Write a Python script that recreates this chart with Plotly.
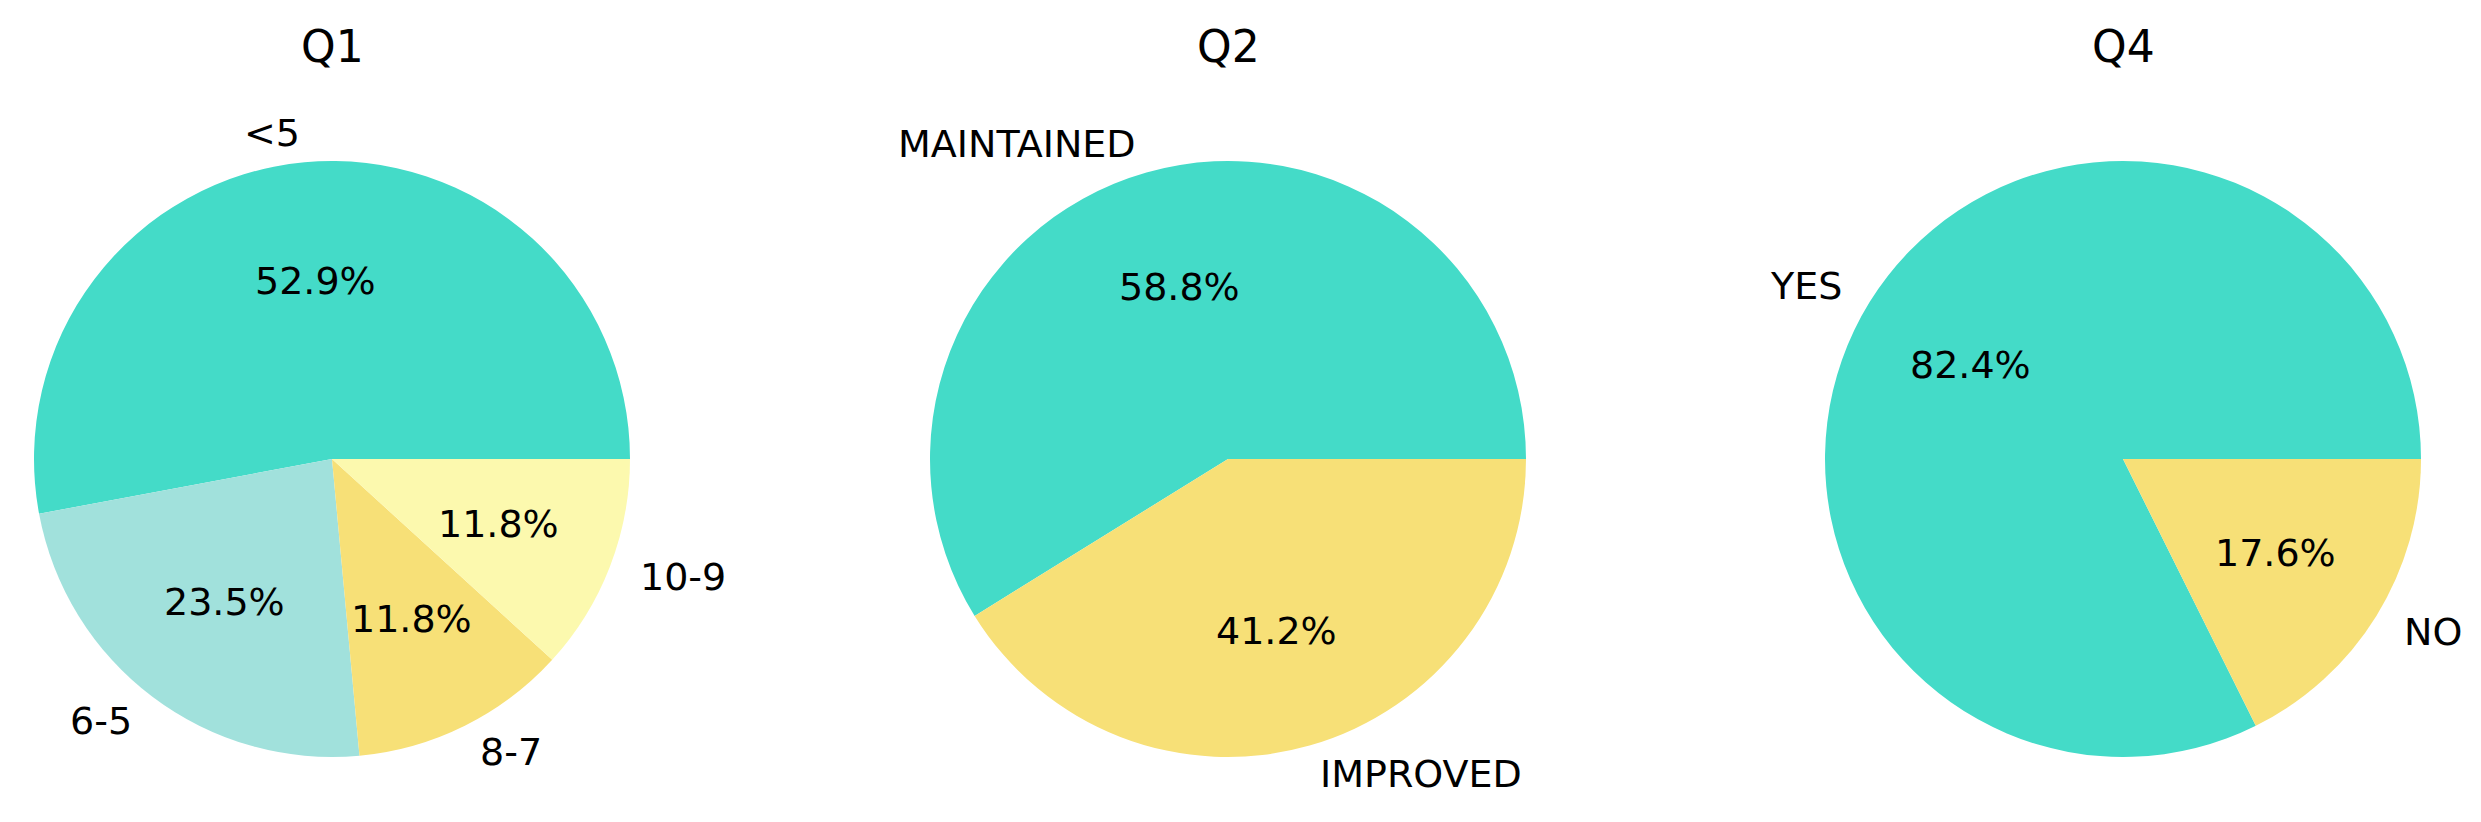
import math
import plotly.graph_objects as go

# survey answers (counts out of 17)
q1_labels = ["<5", "6-5", "8-7", "10-9"]
q1_values = [9, 4, 2, 2]
q2_labels = ["MAINTAINED", "IMPROVED"]
q2_values = [10, 7]
q4_labels = ["YES", "NO"]
q4_values = [14, 3]

titles = ["Q1", "Q2", "Q4"]
q1_colors = ["#44DBC8", "#A1E1DC", "#F7E077", "#FCF9AE"]
q2_colors = ["#44DBC8", "#F7E077"]
q4_colors = ["#44DBC8", "#F7E077"]

W, H = 2481, 822
R = 298            # pie radius in px
CY = 459           # pie centre, px from top
centres = [332, 1228, 2123]
FONT = "DejaVu Sans"

fig = go.Figure()
annotations = []

pies = [(q1_labels, q1_values, q1_colors),
        (q2_labels, q2_values, q2_colors),
        (q4_labels, q4_values, q4_colors)]

for i, (labels, values, colors) in enumerate(pies):
    cx = centres[i]
    cy_up = H - CY
    total = sum(values)
    # plotly's counterclockwise pies put the END of the first slice at `rotation`,
    # so shift it back so the first slice starts at 3 o'clock
    rot = 90 - 360 * values[0] / total
    fig.add_trace(go.Pie(
        labels=labels, values=values, sort=False,
        direction="counterclockwise", rotation=rot,
        marker=dict(colors=colors, line=dict(width=0)),
        textinfo="none", hoverinfo="label+percent", showlegend=False,
        domain=dict(x=[(cx - R) / W, (cx + R) / W],
                    y=[(cy_up - R) / H, (cy_up + R) / H]),
    ))

    # labels at 1.1 r and percentages at 0.6 r
    start = 0.0
    for lab, v in zip(labels, values):
        frac = v / total
        mid = 2 * math.pi * (start + frac / 2)
        start += frac
        c, s = math.cos(mid), math.sin(mid)
        annotations.append(dict(
            text=lab, xref="paper", yref="paper", showarrow=False,
            x=(cx + 1.1 * R * c) / W, y=(cy_up + 1.1 * R * s) / H,
            xanchor="left" if c > 0 else "right", yanchor="middle",
            font=dict(family=FONT, size=38, color="black")))
        annotations.append(dict(
            text=f"{100 * frac:.1f}%", xref="paper", yref="paper", showarrow=False,
            x=(cx + 0.6 * R * c) / W, y=(cy_up + 0.6 * R * s) / H,
            xanchor="center", yanchor="middle",
            font=dict(family=FONT, size=38, color="black")))

    annotations.append(dict(
        text=titles[i], xref="paper", yref="paper", showarrow=False,
        x=cx / W, y=(H - 46) / H, xanchor="center", yanchor="middle",
        font=dict(family=FONT, size=44, color="black")))

fig.update_layout(
    width=W, height=H,
    margin=dict(l=0, r=0, t=0, b=0),
    paper_bgcolor="white", plot_bgcolor="white",
    annotations=annotations,
)

# drop the browser's default 8px body margin so the figure sits at 0,0
fig.write_html("out.html", config={"displayModeBar": False},
               post_script="document.body.style.margin='0';")
